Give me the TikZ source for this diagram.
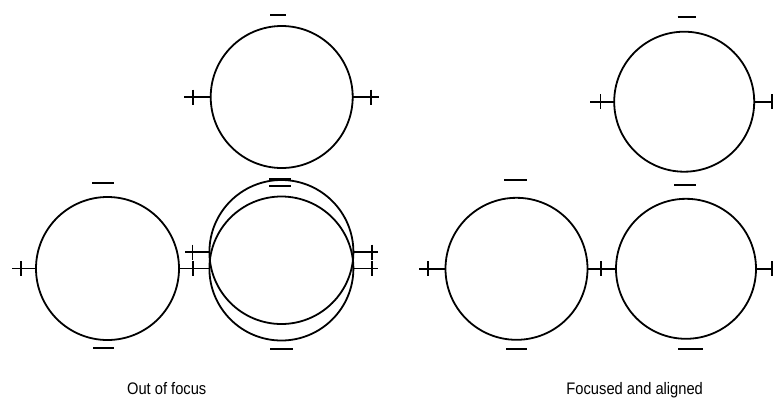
\documentclass[tikz,border=0pt]{standalone}
\usepackage{fontspec}
\newfontfamily\capfont[FakeStretch=0.88]{Liberation Sans}
\usetikzlibrary{calc}
\tikzset{
  lens/.style={circle,draw=black,line width=1.8pt,inner sep=0pt,outer sep=0pt,minimum size=#1},
  lens/.default=142pt,
  stub/.style={line width=1.8pt},
  bar/.style={line width=1.9pt},
  caption/.style={anchor=base,font=\capfont\fontsize{16.7}{20}\selectfont},
}
\newcommand{\tick}[1]{\draw[stub] ($(#1)+(0,-7.5)$) -- ($(#1)+(0,7.5)$);}
\begin{document}
\begin{tikzpicture}[x=1pt,y=-1pt]
  \useasboundingbox (0,0) rectangle (773,400);
  % out of focus
  \node[lens] (T1) at (281.7,97){}; \node[lens=143pt] (L1) at (107.5,268.5){};
  \node[lens=144pt] (A) at (281.4,252){}; \node[lens=144pt] (B) at (281.4,268.5){};
  \coordinate (T1l) at (184,97); \coordinate (T1r) at (379.3,97);
  \coordinate (L1l) at (11.7,268.5); \coordinate (Al) at (185,252);
  \coordinate (Ar) at (378.3,252); \coordinate (Br) at (378.3,268.5);
  \draw[stub] (T1.west) -- coordinate[pos=0.65] (k1) (T1l); \tick{k1}
  \draw[stub] (T1.east) -- coordinate[pos=0.69] (k2) (T1r); \tick{k2}
  \draw[stub] (L1.west) -- coordinate[pos=0.63] (k3) (L1l); \tick{k3}
  \draw[stub] (L1.east) -- coordinate[pos=0.46] (k4) (B.west); \tick{k4}
  \draw[stub] (A.west) -- coordinate[pos=0.69] (k5) (Al); \tick{k5}
  \draw[stub] (A.east) -- coordinate[pos=0.74] (k6) (Ar); \tick{k6}
  \draw[stub] (B.east) -- coordinate[pos=0.74] (k7) (Br); \tick{k7}
  % focused and aligned
  \node[lens=140pt] (T2) at (684.2,101.7){}; \node[lens] (R1) at (516.5,268.8){};
  \node[lens=140pt] (R2) at (686,268.8){};
  \coordinate (T2l) at (590,101.7); \coordinate (T2r) at (782,101.7);
  \coordinate (R1l) at (419,268.8); \coordinate (R2r) at (782,268.8);
  \draw[stub] (T2.west) -- coordinate[pos=0.57] (k8) (T2l); \tick{k8}
  \draw[stub] (T2.east) -- coordinate[pos=0.64] (k9) (T2r); \tick{k9}
  \draw[stub] (R1.west) -- coordinate[pos=0.65] (k10) (R1l); \tick{k10}
  \draw[stub] (R1.east) -- coordinate[pos=0.48] (k11) (R2.west); \tick{k11}
  \draw[stub] (R2.east) -- coordinate[pos=0.62] (k12) (R2r); \tick{k12}
  % minus signs
  \foreach \xa/\xb/\y in {270/286/14.7, 92.3/114.3/182.7, 93/114/348.3,
      269/290.5/179, 269/290.5/186, 270/292.7/349.3,
      677.7/695.7/16.7, 504/526.7/180, 506/527.3/348.7,
      674/695.7/185, 678.3/702.7/348.7}
    \draw[bar] (\xa,\y) -- (\xb,\y);
  \node[caption] (cap1) at (166.7,394){Out of focus};
  \node[caption] (cap2) at (634.7,394){Focused and aligned};
\end{tikzpicture}
\end{document}
